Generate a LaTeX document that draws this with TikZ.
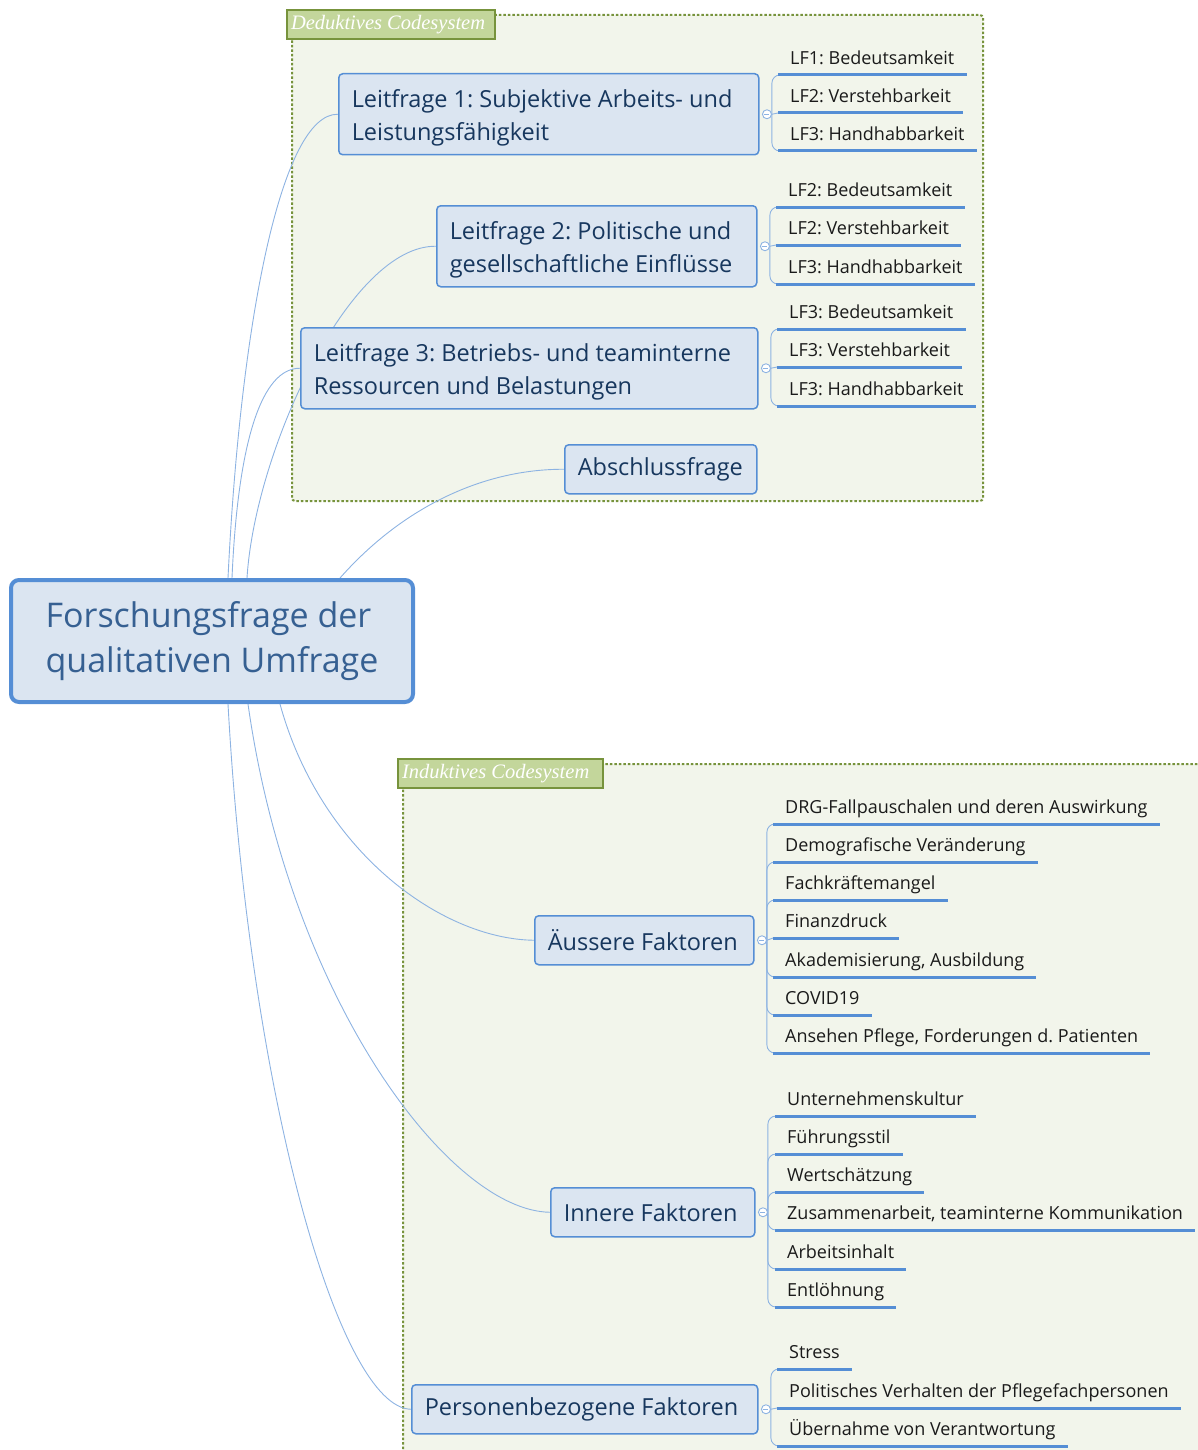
\documentclass[tikz,border=0pt]{standalone}
\usepackage{fontspec}
\setmainfont{Open Sans}
\newfontfamily\tagfont{Liberation Serif}
\usetikzlibrary{positioning}
\frenchspacing

\pgfdeclarelayer{back}
\pgfdeclarelayer{lines}
\pgfsetlayers{back,lines,main}

\definecolor{topicfill}{HTML}{DBE5F1}
\definecolor{topicline}{HTML}{558ED5}
\definecolor{topictext}{HTML}{17375E}
\definecolor{roottext}{HTML}{366092}
\definecolor{linkblue}{HTML}{8DB3E2}
\definecolor{leaftext}{HTML}{1A1A1A}
\definecolor{boxfill}{HTML}{F2F5EB}
\definecolor{boxline}{HTML}{77933C}
\definecolor{tagfill}{HTML}{C3D69B}

\tikzset{
  rootbox/.style={draw=topicline, line width=4pt, fill=topicfill, rounded corners=8pt,
    minimum width=402pt, minimum height=122pt, align=left, text=roottext,
    font=\fontsize{34}{45}\selectfont},
  topic/.style={draw=topicline, line width=1.5pt, fill=topicfill, rounded corners=4pt,
    anchor=north west, inner xsep=13pt, align=flush left, text=topictext,
    font=\fontsize{23.5}{33}\selectfont},
  twoline/.style={topic, minimum height=81pt, text depth=32pt},
  leaf/.style={anchor=south west, inner xsep=12pt, inner ysep=6pt, text height=13pt,
    text depth=4pt, text=leaftext, font=\fontsize{18}{20}\selectfont},
  uline/.style={draw=topicline, line width=3pt},
  link/.style={draw=linkblue, line width=0.9pt},
  fold/.style={circle, draw=linkblue, line width=0.9pt, fill=white, minimum size=9pt, inner sep=0pt,
    path picture={\draw[linkblue, line width=0.8pt]
      ([xshift=-2.5pt]path picture bounding box.center) -- ([xshift=2.5pt]path picture bounding box.center);}},
  codebox/.style={fill=boxfill, draw=boxline, line width=2pt, dash pattern=on 2.5pt off 2pt,
    rounded corners=3pt},
  codetag/.style={anchor=north west, fill=tagfill, draw=boxline, line width=2pt, text=white,
    inner xsep=4pt, minimum height=29pt, align=flush left,
    font=\tagfont\itshape\fontsize{20.5}{22}\selectfont}
}

\begin{document}
\begin{tikzpicture}[x=1pt, y=-1pt]
    \useasboundingbox (0,0) rectangle (1198,1450);
    % code systems
    \begin{pgfonlayer}{back}
    \draw[codebox] (292,15) rectangle (983,501);
    \draw[codebox] (403,764) rectangle (1220,1475);
    \end{pgfonlayer}
    \node[codetag, text width=200pt] (dedtag) at (286,9) {Deduktives Codesystem};
    \node[codetag, text width=197pt] (indtag) at (397,758) {Induktives Codesystem};

    % topics
    \node[rootbox] (root) at (212,641) {Forschungsfrage der\\qualitativen Umfrage};
    \node[twoline, text width=394pt] (lf1) at (338,73)
      {Leitfrage 1: Subjektive Arbeits- und\\Leistungsfähigkeit};
    \node[twoline, text width=294pt] (lf2) at (436,205)
      {Leitfrage 2: Politische und\\gesellschaftliche Einflüsse};
    \node[twoline, text width=431pt] (lf3) at (300,327)
      {Leitfrage 3: Betriebs- und teaminterne\\Ressourcen und Belastungen};
    \node[topic, text width=166pt, minimum height=49pt] (absf) at (564,444) {Abschlussfrage};
    \node[topic, text width=193pt, minimum height=49pt] (auss) at (534,915) {Äussere Faktoren};
    \node[topic, text width=178pt, minimum height=49pt] (inn) at (550,1187) {Innere Faktoren};
    \node[topic, text width=320pt, minimum height=49pt] (pers) at (411,1384) {Personenbezogene Faktoren};

    \node[fold, right=2.5pt of lf1] (lf1f) {};
    \node[fold, right=2.5pt of lf2] (lf2f) {};
    \node[fold, right=2.5pt of lf3] (lf3f) {};
    \node[fold, right=2.5pt of auss] (aussf) {};
    \node[fold, right=2.5pt of inn] (innf) {};
    \node[fold, right=2.5pt of pers] (persf) {};

    % subtopics
    \foreach \n/\x/\y/\lbl in {
      l1a/778/75/LF1: Bedeutsamkeit, l1b/778/113/LF2: Verstehbarkeit, l1c/778/151/LF3: Handhabbarkeit,
      l2a/776/207/LF2: Bedeutsamkeit, l2b/776/245/LF2: Verstehbarkeit, l2c/776/284/LF3: Handhabbarkeit,
      l3a/777/329/LF3: Bedeutsamkeit, l3b/777/367/LF3: Verstehbarkeit, l3c/777/406/LF3: Handhabbarkeit,
      a1/773/824/DRG-Fallpauschalen und deren Auswirkung, a2/773/862/Demografische Veränderung,
      a3/773/900/Fachkräftemangel, a4/773/938/Finanzdruck, a5/773/977/{Akademisierung, Ausbildung},
      a6/773/1015/COVID19, a7/773/1053/{Ansehen Pflege, Forderungen d. Patienten},
      i1/775/1116/Unternehmenskultur, i2/775/1154/Führungsstil, i3/775/1192/Wertschätzung,
      i4/775/1230/{Zusammenarbeit, teaminterne Kommunikation}, i5/775/1269/Arbeitsinhalt,
      i6/775/1307/Entlöhnung,
      p1/777/1369/Stress, p2/777/1408/Politisches Verhalten der Pflegefachpersonen,
      p3/777/1446/Übernahme von Verantwortung}{
      \node[leaf] (\n) at (\x,\y) {\lbl};
      \draw[uline] (\n.south west) -- (\n.south east);
    }

    % connectors
    \begin{pgfonlayer}{lines}
    \draw[link] ([xshift=16pt]root.north) .. controls (240,330) and (280,113) .. (lf1.west);
    \draw[link] ([xshift=35pt]root.north) .. controls (255,450) and (350,245) .. (lf2.west);
    \draw[link] ([xshift=20pt]root.north) .. controls (238,440) and (262,368) .. (lf3.west);
    \draw[link] ([xshift=128pt]root.north) .. controls (400,510) and (480,469) .. (absf.west);
    \draw[link] ([xshift=68pt]root.south) .. controls (320,850) and (440,939) .. (auss.west);
    \draw[link] ([xshift=36pt]root.south) .. controls (290,1000) and (450,1211) .. (inn.west);
    \draw[link] ([xshift=16pt]root.south) .. controls (250,1100) and (340,1408) .. (pers.west);
    \foreach \f/\n in {lf1f/l1a, lf1f/l1c, lf2f/l2a, lf2f/l2c, lf3f/l3a, lf3f/l3c,
      aussf/a1, aussf/a2, aussf/a3, aussf/a5, aussf/a6, aussf/a7,
      innf/i1, innf/i2, innf/i3, innf/i4, innf/i5, innf/i6, persf/p1, persf/p3}
      \draw[link, rounded corners=8pt] (\f.east) |- (\n.south west);
    \foreach \f/\n in {lf1f/l1b, lf2f/l2b, lf3f/l3b, aussf/a4, persf/p2}
      \draw[link] (\f.east) -- (\n.south west);
    \end{pgfonlayer}
\end{tikzpicture}
\end{document}
